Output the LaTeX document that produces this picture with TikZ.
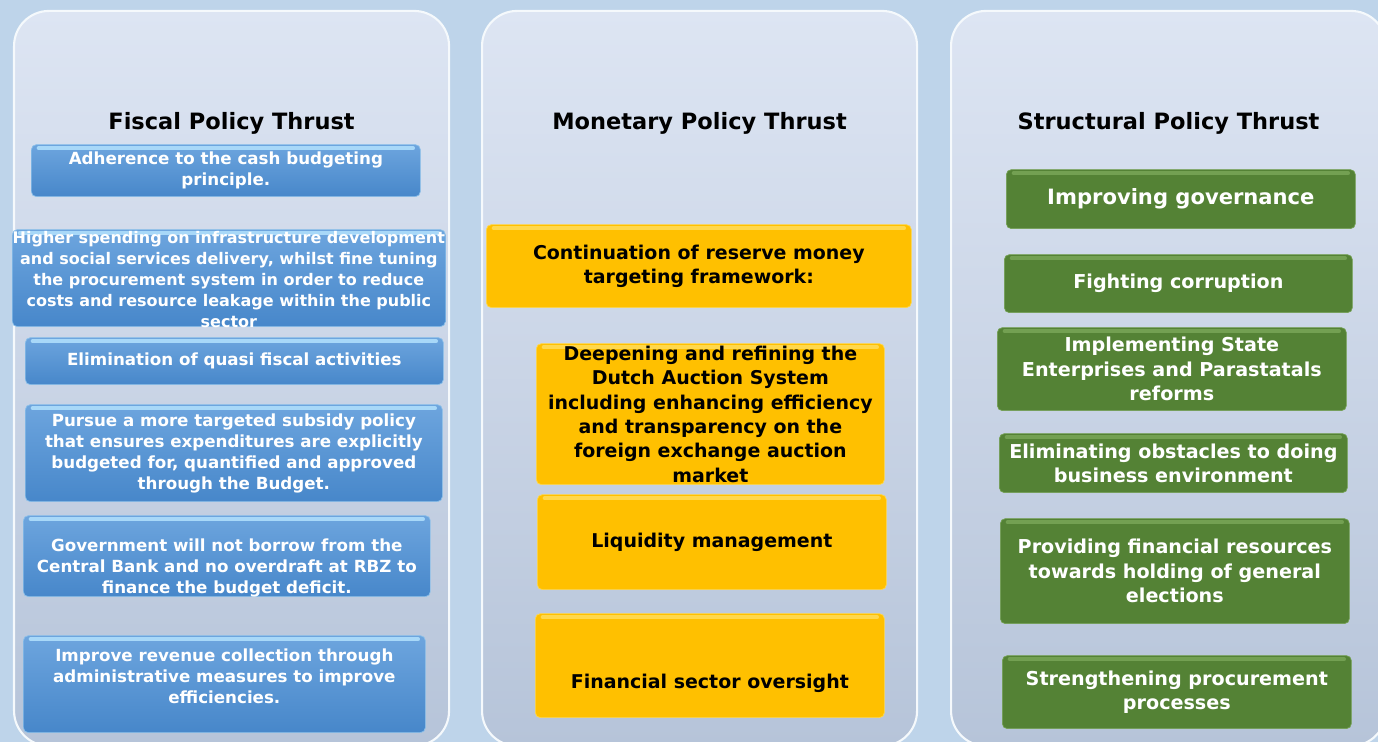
\documentclass[tikz,border=0pt]{standalone}
\usepackage{fontspec}
\setmainfont{DejaVu Sans}
\usepackage{tikz}
\usetikzlibrary{positioning,calc}

\definecolor{bgblue}{HTML}{BED4EA}
\definecolor{paneltop}{HTML}{DDE5F3}
\definecolor{panelbot}{HTML}{B6C4D9}
\definecolor{fiscaltop}{HTML}{6DA5DE}
\definecolor{fiscalbot}{HTML}{4787CA}
\definecolor{fiscalglow}{HTML}{A8D8F8}
\definecolor{monyellow}{HTML}{FFC000}
\definecolor{monglow}{HTML}{FFD84D}
\definecolor{strgreen}{HTML}{548235}
\definecolor{strglow}{HTML}{73A052}

\tikzset{
  panel/.style={draw=white!85!bgblue, line width=1.2pt, rounded corners=0.7cm, top color=paneltop, bottom color=panelbot, anchor=south west},
  head/.style={font=\fontsize{12.8}{15}\selectfont\bfseries, text=black, inner sep=0pt},
  gloss/.style={path picture={\draw[#1, line width=2.5pt, line cap=round] ($(path picture bounding box.north west)+(0.15,-0.07)$) -- ($(path picture bounding box.north east)+(-0.15,-0.07)$);}},
  fbox/.style={draw=fiscalglow!70!fiscalbot, rounded corners=0.1cm, top color=fiscaltop, bottom color=fiscalbot, gloss=fiscalglow, anchor=south west, inner sep=0pt},
  mbox/.style={draw=monglow, rounded corners=0.1cm, fill=monyellow, gloss=monglow, anchor=south west, inner sep=0pt},
  sbox/.style={draw=strglow, rounded corners=0.1cm, fill=strgreen, gloss=strglow, anchor=south west, inner sep=0pt},
  ftxt/.style={text=white, font=\fontsize{9.5}{11.9}\selectfont\bfseries, align=center, inner sep=0pt},
  mtxt/.style={text=black, font=\fontsize{10.8}{13.9}\selectfont\bfseries, align=center, inner sep=0pt},
  stxt/.style={text=white, font=\fontsize{10.9}{13.9}\selectfont\bfseries, align=center, inner sep=0pt}
}

\begin{document}
\begin{tikzpicture}
    \useasboundingbox (0,0) rectangle (27.56,14.84);
    \fill[bgblue] (0,0) rectangle (27.56,14.84);

    %coordinates
    \coordinate (P0) at (0.26,-0.1);
    \coordinate (P1) at ($(P0) + (9.36,0)$);
    \coordinate (P2) at ($(P1) + (9.38,0)$);

    \coordinate (F1) at (0.62,10.90);
    \coordinate (F2) at (0.24,8.30);
    \coordinate (F3) at (0.50,7.14);
    \coordinate (F4) at (0.50,4.80);
    \coordinate (F5) at (0.46,2.90);
    \coordinate (F6) at (0.46,0.18);

    \coordinate (M1) at (9.72,8.68);
    \coordinate (M2) at (10.72,5.14);
    \coordinate (M3) at (10.74,3.04);
    \coordinate (M4) at (10.70,0.48);

    \coordinate (S1) at (20.12,10.26);
    \coordinate (S2) at (20.08,8.58);
    \coordinate (S3) at (19.94,6.62);
    \coordinate (S4) at (19.98,4.98);
    \coordinate (S5) at (20.00,2.36);
    \coordinate (S6) at (20.04,0.26);

    %panels
    \node[panel, minimum width=8.7cm, minimum height=14.7cm] (fiscal) at (P0) {};
    \node[panel, minimum width=8.7cm, minimum height=14.7cm] (monetary) at (P1) {};
    \node[panel, minimum width=8.7cm, minimum height=14.7cm] (structural) at (P2) {};

    \node[head, below=2.05cm of fiscal.north] (fiscalHead) {Fiscal Policy Thrust};
    \node[head, below=2.05cm of monetary.north] (monetaryHead) {Monetary Policy Thrust};
    \node[head, below=2.05cm of structural.north] (structuralHead) {Structural Policy Thrust};

    %fiscal boxes
    \node[fbox, minimum width=7.78cm, minimum height=1.04cm] (cash) at (F1) {};
    \node[fbox, minimum width=8.66cm, minimum height=1.94cm] (spending) at (F2) {};
    \node[fbox, minimum width=8.36cm, minimum height=0.94cm] (quasi) at (F3) {};
    \node[fbox, minimum width=8.34cm, minimum height=1.94cm] (subsidy) at (F4) {};
    \node[fbox, minimum width=8.14cm, minimum height=1.62cm] (borrow) at (F5) {};
    \node[fbox, minimum width=8.04cm, minimum height=1.94cm] (revenue) at (F6) {};

    \node[ftxt] (cashTxt) at (cash.center) {Adherence to the cash budgeting\\principle.};
    \node[ftxt, font=\fontsize{9.1}{11.9}\selectfont\bfseries] (spendingTxt) at ($(spending.center) + (0,-0.03)$) {Higher spending on infrastructure development\\and social services delivery, whilst fine tuning\\the procurement system in order to reduce\\costs and resource leakage within the public\\sector};
    \node[ftxt] (quasiTxt) at (quasi.center) {Elimination of quasi fiscal activities};
    \node[ftxt] (subsidyTxt) at (subsidy.center) {Pursue a more targeted subsidy policy\\that ensures expenditures are explicitly\\budgeted for, quantified and approved\\through the Budget.};
    \node[ftxt] (borrowTxt) at ($(borrow.center) + (0,-0.23)$) {Government will not borrow from the\\Central Bank and no overdraft at RBZ to\\finance the budget deficit.};
    \node[ftxt] (revenueTxt) at ($(revenue.center) + (0,0.15)$) {Improve revenue collection through\\administrative measures to improve\\efficiencies.};

    %monetary boxes
    \node[mbox, minimum width=8.50cm, minimum height=1.66cm] (reserve) at (M1) {};
    \node[mbox, minimum width=6.96cm, minimum height=2.82cm] (dutch) at (M2) {};
    \node[mbox, minimum width=6.98cm, minimum height=1.90cm] (liquidity) at (M3) {};
    \node[mbox, minimum width=6.98cm, minimum height=2.08cm] (oversight) at (M4) {};

    \node[mtxt] (reserveTxt) at (reserve.center) {Continuation of reserve money\\targeting framework:};
    \node[mtxt] (dutchTxt) at (dutch.center) {Deepening and refining the\\Dutch Auction System\\including enhancing efficiency\\and transparency on the\\foreign exchange auction\\market};
    \node[mtxt] (liquidityTxt) at (liquidity.center) {Liquidity management};
    \node[mtxt] (oversightTxt) at ($(oversight.center) + (0,-0.36)$) {Financial sector oversight};

    %structural boxes
    \node[sbox, minimum width=6.98cm, minimum height=1.18cm] (governance) at (S1) {};
    \node[sbox, minimum width=6.96cm, minimum height=1.16cm] (corruption) at (S2) {};
    \node[sbox, minimum width=6.98cm, minimum height=1.66cm] (parastatals) at (S3) {};
    \node[sbox, minimum width=6.96cm, minimum height=1.18cm] (obstacles) at (S4) {};
    \node[sbox, minimum width=6.98cm, minimum height=2.10cm] (elections) at (S5) {};
    \node[sbox, minimum width=6.98cm, minimum height=1.46cm] (procurement) at (S6) {};

    \node[stxt, font=\fontsize{12}{14}\selectfont\bfseries] (governanceTxt) at (governance.center) {Improving governance};
    \node[stxt] (corruptionTxt) at (corruption.center) {Fighting corruption};
    \node[stxt] (parastatalsTxt) at (parastatals.center) {Implementing State\\Enterprises and Parastatals\\reforms};
    \node[stxt] (obstaclesTxt) at (obstacles.center) {Eliminating obstacles to doing\\business environment};
    \node[stxt] (electionsTxt) at (elections.center) {Providing financial resources\\towards holding of general\\elections};
    \node[stxt] (procurementTxt) at (procurement.center) {Strengthening procurement\\processes};
\end{tikzpicture}
\end{document}
